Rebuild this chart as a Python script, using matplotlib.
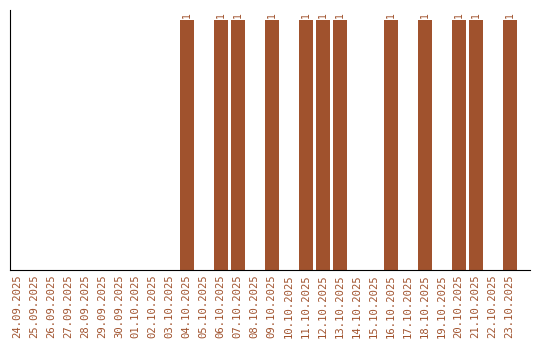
import numpy as np
import matplotlib.pyplot as plt

dates = ["24.09.2025", "25.09.2025", "26.09.2025", "27.09.2025", "28.09.2025",
         "29.09.2025", "30.09.2025", "01.10.2025", "02.10.2025", "03.10.2025",
         "04.10.2025", "05.10.2025", "06.10.2025", "07.10.2025", "08.10.2025",
         "09.10.2025", "10.10.2025", "11.10.2025", "12.10.2025", "13.10.2025",
         "14.10.2025", "15.10.2025", "16.10.2025", "17.10.2025", "18.10.2025",
         "19.10.2025", "20.10.2025", "21.10.2025", "22.10.2025", "23.10.2025"]
counts = [0, 0, 0, 0, 0, 0, 0, 0, 0, 0,
          1, 0, 1, 1, 0, 1, 0, 1, 1, 1,
          0, 0, 1, 0, 1, 0, 1, 1, 0, 1]

color = "#a0522d"

fig = plt.figure(figsize=(5.4, 3.4), dpi=100)
ax = fig.add_axes([10/540, 70/340, 520/540, 260/340])

x = np.arange(len(dates))
bars = ax.bar(x, counts, width=0.82, color=color)
for xi, c in zip(x, counts):
    if c > 0:
        ax.text(xi, c + 0.008, str(c), rotation=90, ha="center", va="bottom",
                color=color, fontsize=7, family="DejaVu Sans Mono")

ax.set_xlim(-0.4, 30.2)
ax.set_ylim(0, 1.04)
ax.set_xticks(x)
ax.set_xticklabels(dates, rotation=90, color=color, fontsize=7.6,
                   family="DejaVu Sans Mono")
ax.tick_params(axis="x", length=0, pad=3)
ax.set_yticks([])
ax.spines["top"].set_visible(False)
ax.spines["right"].set_visible(False)

fig.savefig("out.png", dpi=100)
